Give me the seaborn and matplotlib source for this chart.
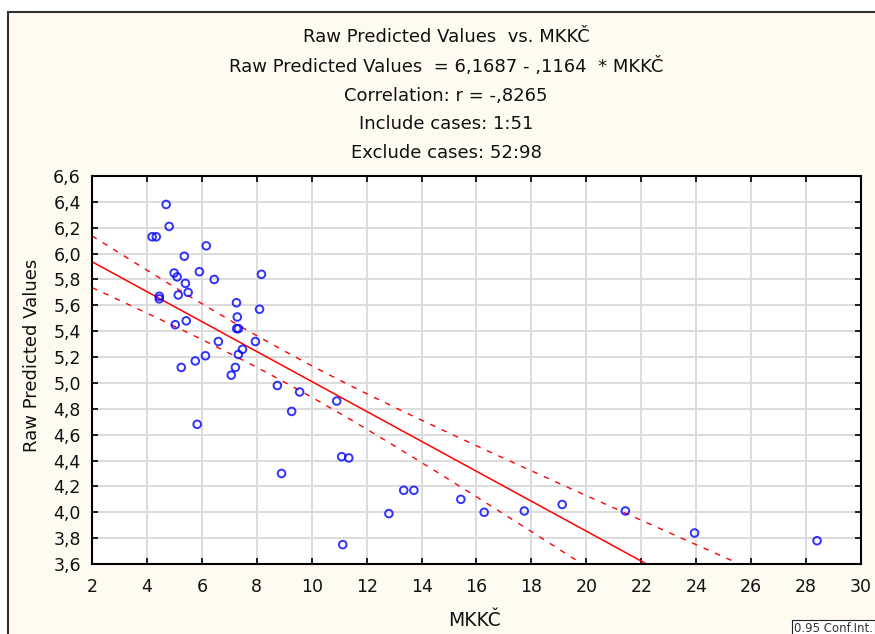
import numpy as np
import pandas as pd
import matplotlib
matplotlib.use("Agg")
import matplotlib.pyplot as plt
import seaborn as sns
from matplotlib.patches import Rectangle

mkkc = [4.70, 4.19, 4.34, 4.81, 6.16, 5.36, 4.99, 5.10, 5.91, 6.45,
        8.17, 5.40, 5.50, 4.45, 4.45, 5.14, 7.26, 8.10, 7.29, 7.27,
        7.33, 5.43, 5.03, 6.60, 7.95, 7.48, 7.33, 6.13, 5.76, 5.25,
        7.22, 7.07, 8.75, 9.56, 10.91, 9.27, 5.83, 11.09, 11.35, 8.90,
        13.35, 13.72, 15.43, 12.81, 16.28, 17.74, 19.12, 21.42, 23.94, 28.40,
        11.13]
raw_pred = [6.38, 6.13, 6.13, 6.21, 6.06, 5.98, 5.85, 5.82, 5.86, 5.80,
            5.84, 5.77, 5.70, 5.67, 5.65, 5.68, 5.62, 5.57, 5.51, 5.42,
            5.42, 5.48, 5.45, 5.32, 5.32, 5.26, 5.22, 5.21, 5.17, 5.12,
            5.12, 5.06, 4.98, 4.93, 4.86, 4.78, 4.68, 4.43, 4.42, 4.30,
            4.17, 4.17, 4.10, 3.99, 4.00, 4.01, 4.06, 4.01, 3.84, 3.78,
            3.75]
x_ticks = list(range(2, 31, 2))
y_ticks = [3.6, 3.8, 4.0, 4.2, 4.4, 4.6, 4.8, 5.0, 5.2, 5.4, 5.6, 5.8, 6.0, 6.2, 6.4, 6.6]
title_lines = ["Raw Predicted Values  vs. MKKČ",
               "Raw Predicted Values  = 6,1687 - ,1164  * MKKČ",
               "Correlation: r = -,8265",
               "Include cases: 1:51",
               "Exclude cases: 52:98"]

df = pd.DataFrame({"MKKČ": mkkc, "Raw Predicted Values": raw_pred})

sns.set_theme(style="white")
plt.rcParams['font.family'] = ['DejaVu Sans']

W, H = 875, 634
fig = plt.figure(figsize=(W / 100, H / 100), dpi=100)
fig.patch.set_facecolor("white")
fig.patches.append(Rectangle((8 / W, -0.01), 1.0, 1 - 12 / H + 0.01, transform=fig.transFigure,
                             facecolor="#FFFBF0", edgecolor="#303030", linewidth=1.5, zorder=-10))

ax = fig.add_axes([92 / W, 1 - 564 / H, (861 - 92) / W, (564 - 176) / H])
ax.set_facecolor("white")
ax.set_xlim(2, 30)
ax.set_ylim(3.6, 6.6)

sns.regplot(data=df, x="MKKČ", y="Raw Predicted Values", ax=ax, ci=None, truncate=False,
            scatter_kws=dict(marker="o", s=30, facecolors="none", edgecolors="#0000FF",
                             linewidths=1.4, zorder=3),
            line_kws=dict(color="#FF0000", lw=1.1, zorder=2))

# 95% confidence band for the mean
x = np.asarray(mkkc)
y = np.asarray(raw_pred)
n = len(x)
b1, b0 = np.polyfit(x, y, 1)
res = y - (b0 + b1 * x)
s = np.sqrt(np.sum(res ** 2) / (n - 2))
xg = np.linspace(2, 30, 300)
se = s * np.sqrt(1 / n + (xg - x.mean()) ** 2 / np.sum((x - x.mean()) ** 2))
tval = 2.0096
fit = b0 + b1 * xg
for sign in (1, -1):
    sns.lineplot(x=xg, y=fit + sign * tval * se, ax=ax, color="#FF0000", lw=1.0,
                 dashes=False, linestyle=(0, (4, 5)), zorder=2)

ax.set_xlim(2, 30)
ax.set_ylim(3.6, 6.6)
ax.set_xticks(x_ticks)
ax.set_yticks(y_ticks)
ax.set_xticklabels([str(t) for t in x_ticks])
ax.set_yticklabels([f"{t:.1f}".replace(".", ",") for t in y_ticks])
ax.grid(True, color="#DCDCDC", linewidth=1.4)
ax.set_axisbelow(True)
for sp in ax.spines.values():
    sp.set_visible(True)
    sp.set_color("black")
    sp.set_linewidth(1.5)
ax.tick_params(direction="in", length=4, width=1.2, color="black", labelsize=12.5,
               labelcolor="#111111", left=True, right=True, bottom=True, top=True)
ax.tick_params(axis="y", pad=8)
ax.tick_params(axis="x", pad=10)
ax.set_xlabel("MKKČ", fontsize=13.5, color="#111111")
ax.set_ylabel("Raw Predicted Values", fontsize=13, color="#111111")
ax.xaxis.set_label_coords((475 - 92) / 769, (564 - 620) / 388)
ax.yaxis.set_label_coords((32 - 92) / 769, (564 - 355) / 388)
ax.xaxis.label.set_va("center")
ax.yaxis.label.set_va("center")

ys = [37, 67, 96, 124, 153]
for t, yy in zip(title_lines, ys):
    fig.text(446 / W, 1 - yy / H, t, ha="center", va="center", fontsize=13, color="#111111")

fig.text(794 / W, 1 - 629 / H, "0.95 Conf.Int.", ha="left", va="center", fontsize=8.5,
         color="#333333",
         bbox=dict(boxstyle="square,pad=0.2", facecolor="white", edgecolor="#222222", linewidth=0.8))

fig.savefig("out.png", dpi=100, facecolor=fig.get_facecolor())
